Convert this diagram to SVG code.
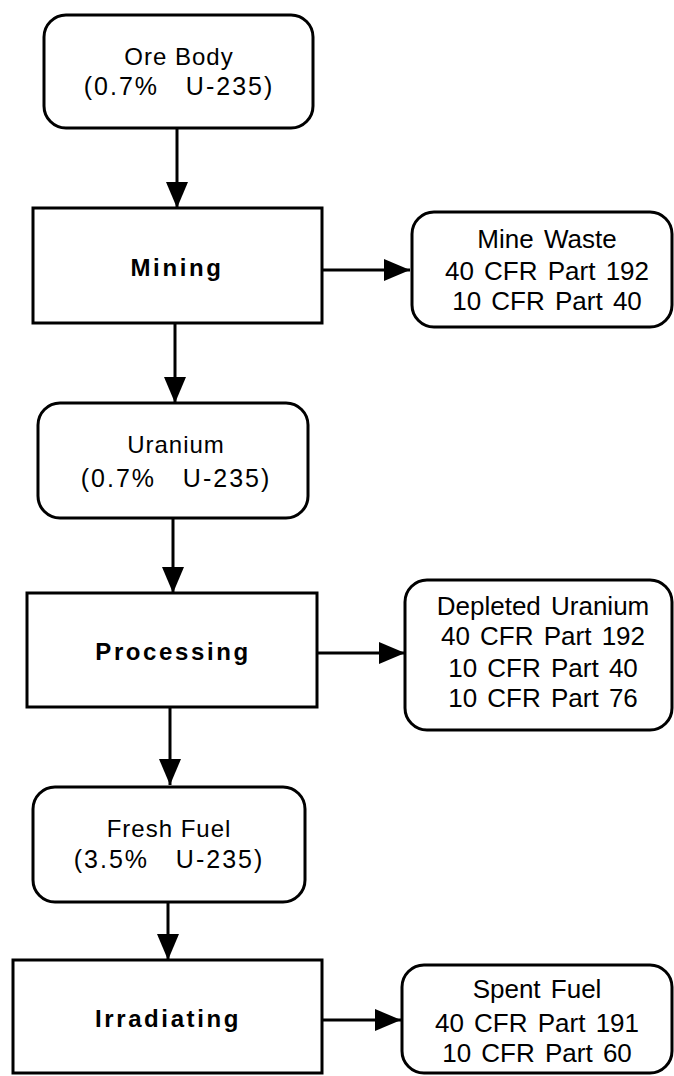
<svg xmlns="http://www.w3.org/2000/svg" width="674" height="1076" viewBox="0 0 674 1076">
<style>
.box{fill:#fff;stroke:#000;stroke-width:3}
.t{font-family:"Liberation Sans",Arial,sans-serif;font-size:24px;letter-spacing:1px;fill:#000;text-anchor:middle}
.p{font-family:"Liberation Sans",Arial,sans-serif;font-size:25px;letter-spacing:2px;fill:#000;text-anchor:middle}
.r{font-family:"Liberation Sans",Arial,sans-serif;font-size:26px;word-spacing:3px;fill:#000;text-anchor:middle}
.b{font-family:"Liberation Sans",Arial,sans-serif;font-size:24px;font-weight:bold;letter-spacing:2.6px;fill:#000;text-anchor:middle}
.c{stroke:#000;stroke-width:3;fill:none}
</style>
<defs>
<marker id="ah" markerUnits="userSpaceOnUse" viewBox="0 0 26 22" refX="26" refY="11" markerWidth="26" markerHeight="22" orient="auto">
<path d="M0,0 L26,11 L0,22 Z" fill="#000"/>
</marker>
</defs>
<g id="connectors">
<line class="c" x1="177" y1="128" x2="177" y2="208" marker-end="url(#ah)"/>
<line class="c" x1="322" y1="270" x2="410" y2="270" marker-end="url(#ah)"/>
<line class="c" x1="175" y1="323" x2="175" y2="403" marker-end="url(#ah)"/>
<line class="c" x1="173" y1="518" x2="173" y2="593" marker-end="url(#ah)"/>
<line class="c" x1="317" y1="653" x2="405" y2="653" marker-end="url(#ah)"/>
<line class="c" x1="170" y1="707" x2="170" y2="785" marker-end="url(#ah)"/>
<line class="c" x1="168" y1="902" x2="168" y2="960" marker-end="url(#ah)"/>
<line class="c" x1="322" y1="1020" x2="401" y2="1020" marker-end="url(#ah)"/>
</g>
<g id="ore-body">
<rect class="box" x="44" y="15" width="269" height="113" rx="22"/>
<text class="t" x="179" y="65">Ore Body</text>
<text class="p" x="179" y="95" xml:space="preserve">(0.7%   U-235)</text>
</g>
<g id="mining">
<rect class="box" x="33" y="208" width="289" height="115"/>
<text class="b" x="177" y="276">Mining</text>
</g>
<g id="mine-waste">
<rect class="box" x="412" y="212" width="260" height="115" rx="22"/>
<text class="r" x="547" y="248">Mine Waste</text>
<text class="r" x="547" y="280">40 CFR Part 192</text>
<text class="r" x="547" y="310">10 CFR Part 40</text>
</g>
<g id="uranium">
<rect class="box" x="38" y="403" width="270" height="115" rx="22"/>
<text class="t" x="176" y="453">Uranium</text>
<text class="p" x="176" y="487" xml:space="preserve">(0.7%   U-235)</text>
</g>
<g id="processing">
<rect class="box" x="27" y="593" width="290" height="114"/>
<text class="b" x="173" y="660">Processing</text>
</g>
<g id="depleted-uranium">
<rect class="box" x="405" y="580" width="267" height="150" rx="22"/>
<text class="r" x="543" y="615">Depleted Uranium</text>
<text class="r" x="543" y="645">40 CFR Part 192</text>
<text class="r" x="543" y="677">10 CFR Part 40</text>
<text class="r" x="543" y="707">10 CFR Part 76</text>
</g>
<g id="fresh-fuel">
<rect class="box" x="33" y="787" width="272" height="115" rx="22"/>
<text class="t" x="169" y="837">Fresh Fuel</text>
<text class="p" x="169" y="868" xml:space="preserve">(3.5%   U-235)</text>
</g>
<g id="irradiating">
<rect class="box" x="13" y="960" width="309" height="113"/>
<text class="b" x="168" y="1027">Irradiating</text>
</g>
<g id="spent-fuel">
<rect class="box" x="402" y="965" width="270" height="108" rx="22"/>
<text class="r" x="537" y="998">Spent Fuel</text>
<text class="r" x="537" y="1032">40 CFR Part 191</text>
<text class="r" x="537" y="1062">10 CFR Part 60</text>
</g>
</svg>
